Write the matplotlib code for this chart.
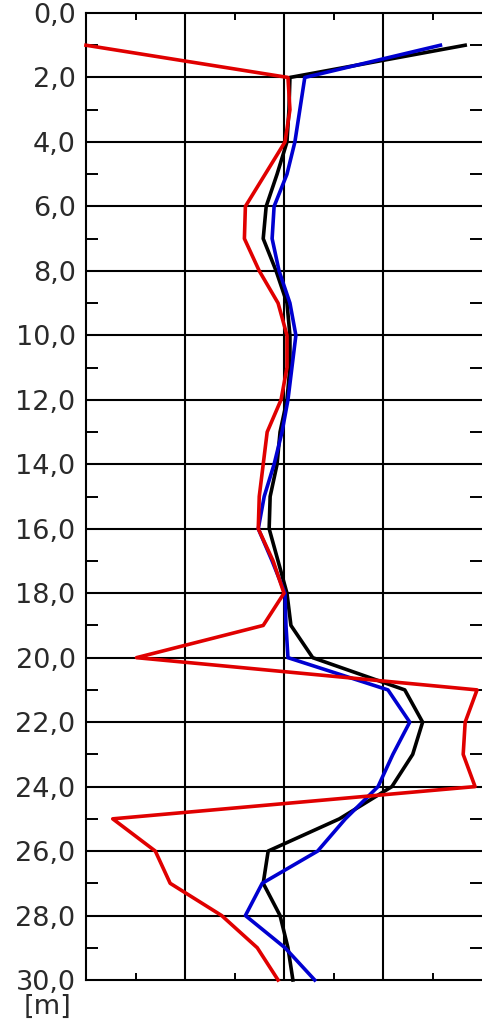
import matplotlib
matplotlib.use("Agg")
import matplotlib.pyplot as plt
from matplotlib.ticker import FixedLocator, FuncFormatter

# depth [m]
depth = list(range(1, 31))

# relative values (grid units, 0..4)
black = [3.83, 2.06, 2.05, 2.03, 1.93, 1.82, 1.79, 1.92, 2.03, 2.06,
         2.06, 2.03, 1.96, 1.93, 1.86, 1.85, 1.94, 2.03, 2.07, 2.29,
         3.22, 3.40, 3.30, 3.09, 2.56, 1.84, 1.79, 1.96, 2.04, 2.09]
blue = [3.58, 2.21, 2.16, 2.11, 2.03, 1.90, 1.88, 1.95, 2.06, 2.12,
        2.08, 2.04, 1.98, 1.90, 1.80, 1.74, 1.88, 2.01, 2.02, 2.04,
        3.05, 3.27, 3.10, 2.95, 2.62, 2.34, 1.78, 1.61, 2.01, 2.31]
red = [0.00, 2.04, 2.06, 2.01, 1.81, 1.61, 1.60, 1.75, 1.94, 2.03,
       2.03, 1.97, 1.83, 1.79, 1.75, 1.74, 1.89, 2.00, 1.79, 0.51,
       3.95, 3.83, 3.81, 3.93, 0.27, 0.70, 0.85, 1.37, 1.73, 1.94]

y_major = list(range(0, 31, 2))
y_minor = list(range(1, 30, 2))
x_grid = [1, 2, 3]
x_minor = [0.5, 1.5, 2.5, 3.5]

fig = plt.figure(figsize=(4.82, 10.24), dpi=100)
ax = fig.add_axes([86 / 482, 1 - 980 / 1024, 1 - 86 / 482, (980 - 13) / 1024])

ax.set_xlim(0, 4)
ax.set_ylim(30, 0)

# grid
for g in x_grid:
    ax.axvline(g, color="black", lw=1.5, zorder=1)
for g in y_major[1:-1]:
    ax.axhline(g, color="black", lw=1.5, zorder=1)

ax.plot(black, depth, color="black", lw=2.6, zorder=3, clip_on=False)
ax.plot(blue, depth, color="#0000d0", lw=2.6, zorder=4, clip_on=False)
ax.plot(red, depth, color="#e00000", lw=2.6, zorder=5, clip_on=False)

for s in ax.spines.values():
    s.set_linewidth(1.5)
    s.set_color("black")
ax.spines["right"].set_visible(False)

ax.yaxis.set_major_locator(FixedLocator(y_major))
ax.yaxis.set_minor_locator(FixedLocator(y_minor))
ax.yaxis.set_major_formatter(FuncFormatter(lambda v, p: f"{v:.1f}".replace(".", ",")))
ax.xaxis.set_major_locator(FixedLocator([]))
ax.xaxis.set_minor_locator(FixedLocator(x_minor))

ax.tick_params(axis="y", which="major", length=0, pad=7.5, labelsize=19.5,
               labelcolor="#2a2a2a")
ax.tick_params(axis="y", which="minor", direction="in", length=8.5, width=1.4,
               left=True, right=True, color="black")
ax.tick_params(axis="x", which="minor", direction="in", length=5, width=1.4,
               top=True, bottom=True, color="black", labelbottom=False)
ax.tick_params(axis="x", which="major", length=0, labelbottom=False)

fig.text(48 / 482, 1 - 1007 / 1024, "[m]", fontsize=19.5, color="#2a2a2a",
         ha="center", va="center")

fig.savefig("out.png", dpi=100, facecolor="white")
